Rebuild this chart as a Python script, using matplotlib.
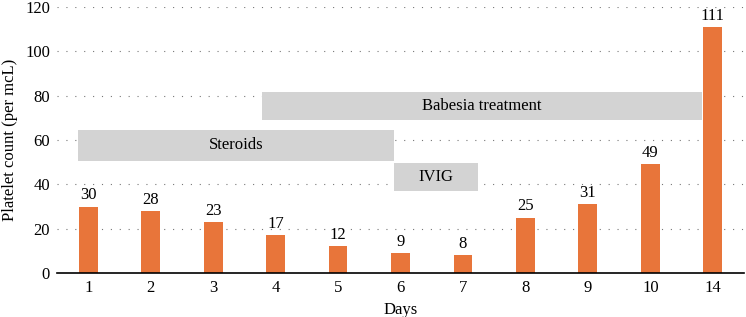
import matplotlib.pyplot as plt
from matplotlib.patches import Rectangle

# platelet counts by day
days = ['1', '2', '3', '4', '5', '6', '7', '8', '9', '10', '14']
counts = [30, 28, 23, 17, 12, 9, 8, 25, 31, 49, 111]

# treatment periods: (label, x start, x end, y low, y high) in category units
treatments = [
    ('Babesia treatment', 2.79, 9.82, 68.9, 81.8),
    ('Steroids', -0.16, 4.9, 50.7, 64.5),
    ('IVIG', 4.9, 6.24, 37.1, 49.5),
]

plt.rcParams['font.family'] = ['Liberation Serif', 'DejaVu Serif']
fs = 12

fig = plt.figure(figsize=(7.46, 3.17), dpi=100)
ax = fig.add_axes([57 / 746, 44 / 317, 687 / 746, 266 / 317])

x = list(range(len(days)))
ax.bar(x, counts, width=0.3, color='#E8753A', zorder=3)
for i, c in zip(x, counts):
    ax.text(i, c + 1.5, str(c), ha='center', va='bottom', fontsize=fs, zorder=4)

for label, x0, x1, y0, y1 in treatments:
    ax.add_patch(Rectangle((x0, y0), x1 - x0, y1 - y0, facecolor='#D3D3D3',
                           edgecolor='none', zorder=2))
    ax.text((x0 + x1) / 2, (y0 + y1) / 2, label, ha='center', va='center',
            fontsize=fs, zorder=4)

ax.set_xlim(-0.5, len(days) - 0.5)
ax.set_ylim(0, 120)
ax.set_yticks(range(0, 121, 20))
ax.set_xticks(x)
ax.set_xticklabels(days)
ax.yaxis.grid(True, linestyle=(0, (1, 7)), color='#777777', linewidth=0.8, zorder=0)
ax.tick_params(axis='both', length=0, labelsize=fs, pad=5)
for s in ['top', 'right', 'left']:
    ax.spines[s].set_visible(False)
ax.spines['bottom'].set_linewidth(1.2)
ax.spines['bottom'].set_zorder(5)
ax.set_xlabel('Days', fontsize=fs, labelpad=4)
ax.set_ylabel('Platelet count (per mcL)', fontsize=fs, labelpad=5)

fig.savefig('out.png', dpi=100)
